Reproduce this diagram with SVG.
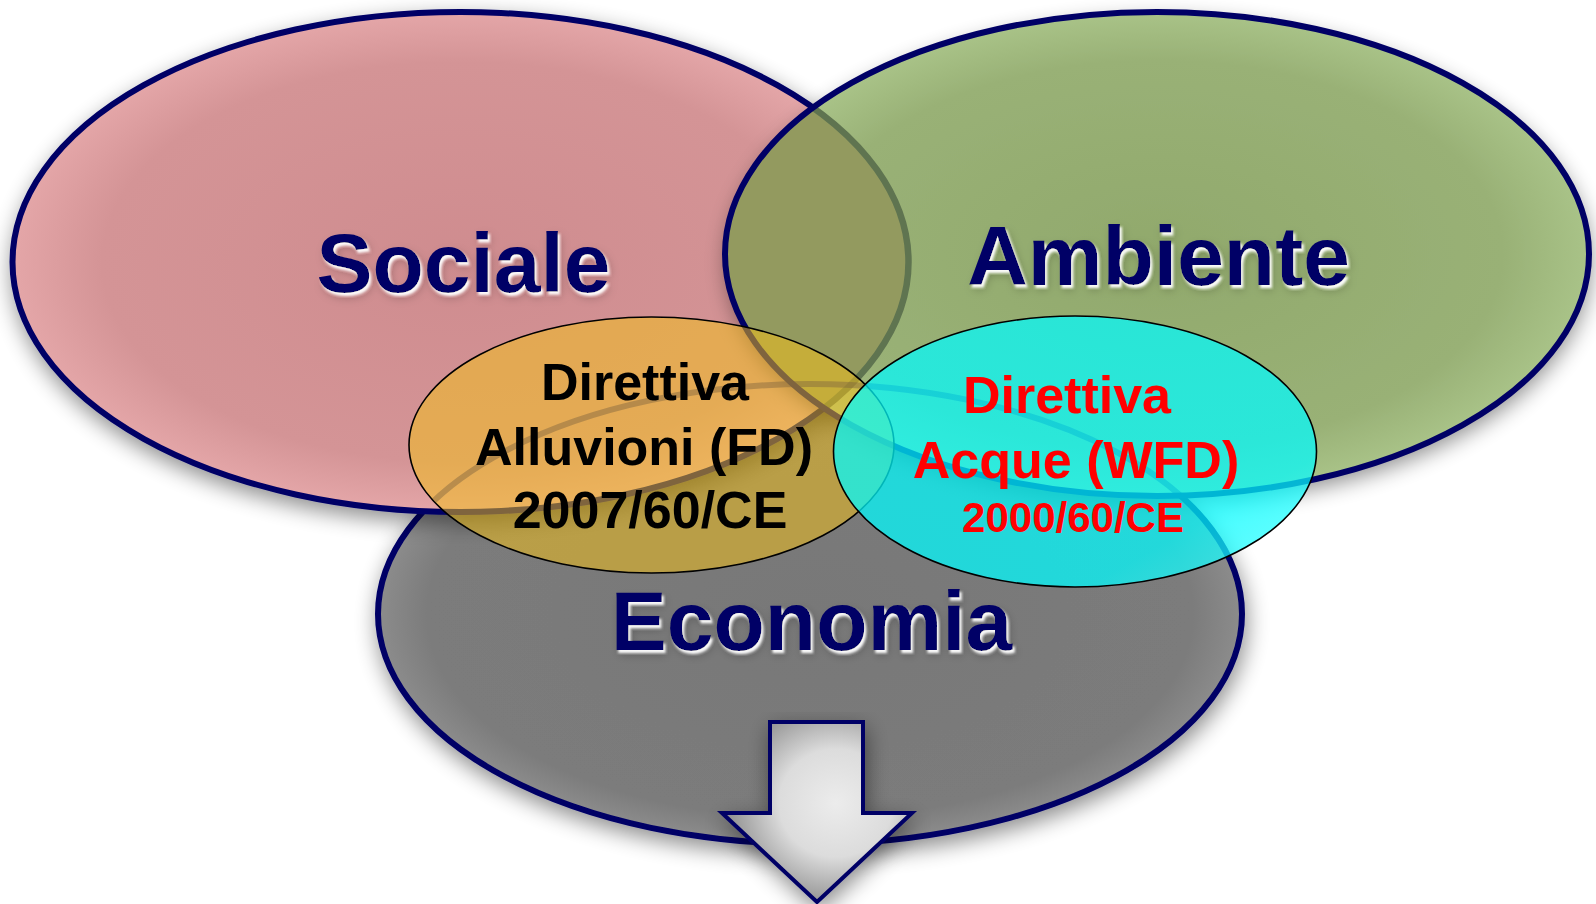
<svg xmlns="http://www.w3.org/2000/svg" width="1596" height="904" viewBox="0 0 1596 904">
  <style>
    .big { stroke: #000066; stroke-width: 6; }
    .lbl { font-family: "Liberation Sans", Arial, sans-serif; font-weight: bold; font-size: 84px; fill: #000066; text-anchor: middle; }
    .dir { font-family: "Liberation Sans", Arial, sans-serif; font-weight: bold; font-size: 52px; text-anchor: middle; }
    .blk { fill: #000000; }
    .red { fill: #ff0000; }
    .small { stroke: #000000; stroke-width: 1.6; }
  </style>
  <defs>
    <filter id="shadow" x="-10%" y="-10%" width="120%" height="125%">
      <feGaussianBlur in="SourceAlpha" stdDeviation="11"/>
      <feOffset dx="2" dy="8" result="b"/>
      <feComponentTransfer><feFuncA type="linear" slope="0.45"/></feComponentTransfer>
      <feMerge><feMergeNode/><feMergeNode in="SourceGraphic"/></feMerge>
    </filter>
    <filter id="txt" x="-10%" y="-20%" width="120%" height="150%">
      <feGaussianBlur in="SourceAlpha" stdDeviation="5" result="blur"/>
      <feOffset in="blur" dx="3" dy="5" result="ob"/>
      <feFlood flood-color="#000000" flood-opacity="0.22"/>
      <feComposite in2="ob" operator="in" result="dark"/>
      <feGaussianBlur in="SourceAlpha" stdDeviation="1" result="b2"/>
      <feOffset in="b2" dx="2" dy="3" result="ob2"/>
      <feFlood flood-color="#ffffff" flood-opacity="0.95"/>
      <feComposite in2="ob2" operator="in" result="white"/>
      <feMerge><feMergeNode in="dark"/><feMergeNode in="white"/><feMergeNode in="SourceGraphic"/></feMerge>
    </filter>
    <radialGradient id="gSoc" cx="0.5" cy="0.5" r="0.5">
      <stop offset="0" stop-color="#cf8c8f"/>
      <stop offset="0.8" stop-color="#d49496"/>
      <stop offset="1" stop-color="#e4a6a8"/>
    </radialGradient>
    <radialGradient id="gAmb" cx="0.5" cy="0.5" r="0.5">
      <stop offset="0" stop-color="#91a96c"/>
      <stop offset="0.8" stop-color="#99b176"/>
      <stop offset="1" stop-color="#a9c388"/>
    </radialGradient>
    <radialGradient id="gEco" cx="0.5" cy="0.5" r="0.5">
      <stop offset="0" stop-color="#787878"/>
      <stop offset="0.88" stop-color="#7b7b7b"/>
      <stop offset="1" stop-color="#8c8c8c"/>
    </radialGradient>
    <linearGradient id="gCyan" x1="0.2" y1="0.2" x2="1" y2="1">
      <stop offset="0" stop-color="#00fcff"/>
      <stop offset="0.7" stop-color="#00fcff"/>
      <stop offset="1" stop-color="#40ffff"/>
    </linearGradient>
    <radialGradient id="gArrow" cx="0.6" cy="0.45" r="0.6">
      <stop offset="0" stop-color="#ececec"/>
      <stop offset="0.5" stop-color="#dcdcdc"/>
      <stop offset="1" stop-color="#8a8a8a"/>
    </radialGradient>
    <clipPath id="clipSmall">
      <ellipse cx="651.5" cy="445" rx="242.5" ry="128"/>
      <ellipse cx="1075" cy="451.5" rx="241.5" ry="135.5"/>
    </clipPath>
    <clipPath id="clipSoc">
      <ellipse cx="460.5" cy="262" rx="448" ry="250"/>
    </clipPath>
    <clipPath id="clipAmb">
      <ellipse cx="1157" cy="254" rx="432" ry="242"/>
    </clipPath>
  </defs>

  <rect width="1596" height="904" fill="#ffffff"/>

  <g id="economia">
    <ellipse cx="810" cy="614" rx="432" ry="230" fill="url(#gEco)" class="big" filter="url(#shadow)"/>
  </g>

  <g id="sociale">
    <ellipse cx="460.5" cy="262" rx="448" ry="250" fill="url(#gSoc)" class="big" filter="url(#shadow)"/>
    <text class="lbl" x="463.5" y="292" filter="url(#txt)">Sociale</text>
  </g>

  <g id="ambiente">
    <ellipse cx="1157" cy="254" rx="432" ry="242" fill="url(#gAmb)" filter="url(#shadow)"/>
    <g clip-path="url(#clipSoc)">
      <ellipse cx="1157" cy="254" rx="432" ry="242" fill="#939a5f"/>
    </g>
    <g clip-path="url(#clipAmb)">
      <ellipse cx="460.5" cy="262" rx="448" ry="250" fill="none" stroke="#5f7450" stroke-width="6.5"/>
    </g>
    <ellipse cx="1157" cy="254" rx="432" ry="242" fill="none" class="big"/>
    <text class="lbl" x="1158.5" y="285" filter="url(#txt)">Ambiente</text>
  </g>

  <g id="economia-label">
    <text class="lbl" x="811.5" y="650" filter="url(#txt)">Economia</text>
  </g>

  <g id="hidden-edges" clip-path="url(#clipSmall)">
    <ellipse cx="810" cy="614" rx="432" ry="230" fill="none" stroke="#000066" stroke-width="6" stroke-opacity="0.45"/>
  </g>

  <g id="direttiva-alluvioni">
    <ellipse cx="651.5" cy="445" rx="242.5" ry="128" fill="#f4c018" fill-opacity="0.52" class="small"/>
    <text class="dir blk" x="645" y="400">Direttiva</text>
    <text class="dir blk" x="644" y="465">Alluvioni (FD)</text>
    <text class="dir blk" x="650" y="528">2007/60/CE</text>
  </g>

  <g id="direttiva-acque">
    <ellipse cx="1075" cy="451.5" rx="241.5" ry="135.5" fill="url(#gCyan)" fill-opacity="0.72" class="small"/>
    <text class="dir red" x="1067" y="413">Direttiva</text>
    <text class="dir red" x="1076" y="478" font-size="53">Acque (WFD)</text>
    <text class="dir red" x="1073" y="532" style="font-size:42px">2000/60/CE</text>
  </g>

  <g id="arrow">
    <path d="M770,722 H863 V813 H912 L817,902 L722,813 H770 Z" fill="url(#gArrow)" stroke="#000066" stroke-width="4" stroke-linejoin="miter" filter="url(#shadow)"/>
  </g>

  <g id="connectors"/>
</svg>
